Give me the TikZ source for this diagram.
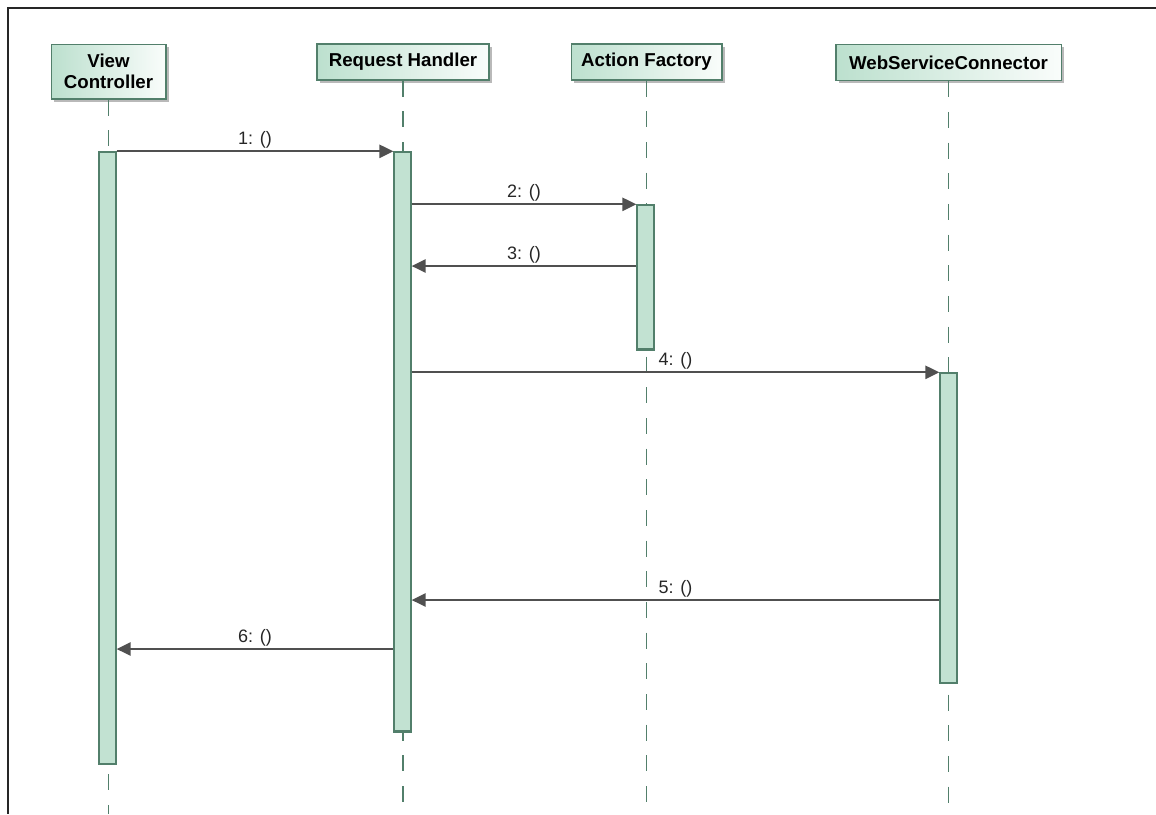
\documentclass[tikz,border=0pt]{standalone}
\usepackage{fontspec}
\setmainfont{Liberation Sans}
\usepackage{tikz}
\usetikzlibrary{arrows.meta,shadows}
\definecolor{hdrfill}{HTML}{BCE0CE}
\definecolor{barfill}{HTML}{C2E2D2}
\definecolor{seqline}{HTML}{527F6B}
\definecolor{msgline}{HTML}{505050}

\begin{document}
\begin{tikzpicture}[x=0.75pt,y=-0.75pt,
    obj/.style={draw=seqline,line width=1pt,left color=hdrfill,right color=hdrfill!8,
        drop shadow={shadow xshift=2.2pt,shadow yshift=-2.2pt,fill=gray!55,opacity=1},
        inner sep=0pt,minimum height=27pt,align=center,
        font=\fontsize{14}{15.5}\selectfont\bfseries},
    life/.style={seqline,line width=1pt,dash pattern=on 12pt off 11pt},
    bar/.style={draw=seqline,line width=1pt,fill=barfill,minimum width=12.75pt,inner sep=0pt},
    msg/.style={msgline,line width=1.3pt,-{Triangle[length=10.5pt,width=10pt]}},
    lbl/.style={above=0pt,inner sep=1.5pt,text=black!85,font=\fontsize{13.5}{15}\selectfont}]
            \useasboundingbox (0,0) rectangle (1156,814);
            \draw [black!85,line width=1.1pt] (1156,8) -- (8,8) -- (8,814);

            % objects
            \node [obj,minimum width=86pt,minimum height=41pt] (vc) at (108.5,71.5) {View\\Controller};
            \node [obj,minimum width=129pt] (rh) at (403,62) {Request Handler};
            \node [obj,minimum width=113pt] (af) at (646.5,62) {Action Factory};
            \node [obj,minimum width=169pt] (ws) at (948.5,62.5) {WebServiceConnector};

            % lifelines
            \foreach \o in {vc,rh,af,ws} {
                \draw [life] (\o.south) -- (\o.south |- 0,814);
            }

            % activations
            \node [bar,minimum height=459pt] (vcb) at (107.5,458) {};
            \node [bar,minimum height=434.25pt] (rhb) at (402.5,441.5) {};
            \node [bar,minimum height=108pt] (afb) at (645.5,277) {};
            \node [bar,minimum height=232.5pt] (wsb) at (948.5,528) {};
            \foreach \b in {rhb,afb} {
                \draw [seqline,line width=2pt] (\b.south west) -- (\b.south east);
            }

            % messages
            \draw [msg] (vcb.north east) -- node[lbl]{1: ()} (rhb.north west);
            \draw [msg] (rhb.east |- afb.north) -- node[lbl]{2: ()} (afb.north west);
            \draw [msg] (afb.west |- 0,266) -- node[lbl]{3: ()} (rhb.east |- 0,266);
            \draw [msg] (rhb.east |- wsb.north) -- node[lbl]{4: ()} (wsb.north west);
            \draw [msg] (wsb.west |- 0,600) -- node[lbl]{5: ()} (rhb.east |- 0,600);
            \draw [msg] (rhb.west |- 0,649) -- node[lbl]{6: ()} (vcb.east |- 0,649);
        \end{tikzpicture}
\end{document}
